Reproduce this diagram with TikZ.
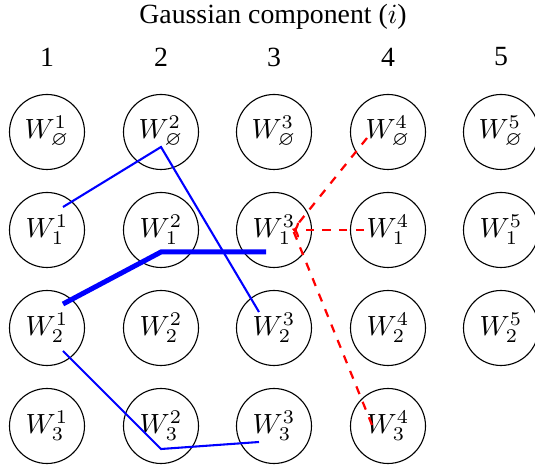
\documentclass[tikz,border=0pt]{standalone}
\usepackage{amssymb}
\usepackage{fontspec}
\setmainfont{Liberation Serif}
\usetikzlibrary{calc,arrows.meta}
\begin{document}
\begin{tikzpicture}[x=0.36pt,y=-0.36pt,
  wnode/.style={circle,draw,line width=0.4pt,minimum size=27pt,inner sep=0pt,font=\fontsize{10}{12}\selectfont},
  lbl/.style={font=\fontsize{10}{12}\selectfont,inner sep=0pt},
  bthin/.style={blue,line width=0.75pt},
  bthick/.style={blue,line width=1.8pt},
  rdash/.style={red,dashed,line width=0.8pt}]
\useasboundingbox (0,0) rectangle (535,466);
\node[lbl] (title) at (273,17) {Gaussian component ($i$)};
\foreach \c/\x in {1/47,2/161,3/274,4/388,5/501}{
  \node[lbl] (h\c) at (\x,57) {\c};
}
\foreach \c/\x in {1/47,2/161,3/274,4/388,5/501}{
  \node[wnode] (n0\c) at (\x,132) {$W^{\c}_{\varnothing}$};
  \node[wnode] (n1\c) at (\x,230) {$W^{\c}_{1}$};
  \node[wnode] (n2\c) at (\x,328) {$W^{\c}_{2}$};
}
\foreach \c/\x in {1/47,2/161,3/274,4/388}{
  \node[wnode] (n3\c) at (\x,426) {$W^{\c}_{3}$};
}
% blue paths
\draw[bthin] ($(n11)+(16,-23)$) -- ($(n02)+(0,15)$) -- ($(n23)+(-15,-16)$);
\draw[bthick] ($(n21)+(16,-24)$) -- ($(n12)+(0,22)$) -- ($(n13)+(-8,22)$);
\draw[bthin] ($(n21)+(16,23)$) -- ($(n32)+(0,23)$) -- ($(n33)+(-15,16)$);
% red dashed
\coordinate (tip) at ($(n13)+(19,0)$);
\draw[rdash] ($(n04)+(-21,6)$) -- (tip);
\draw[rdash,-{To[length=2.2pt,width=5.5pt]}] ($(n14)+(-24,0)$) -- (tip);
\draw[rdash] ($(n34)+(-16,-1)$) -- (tip);
\end{tikzpicture}
\end{document}
